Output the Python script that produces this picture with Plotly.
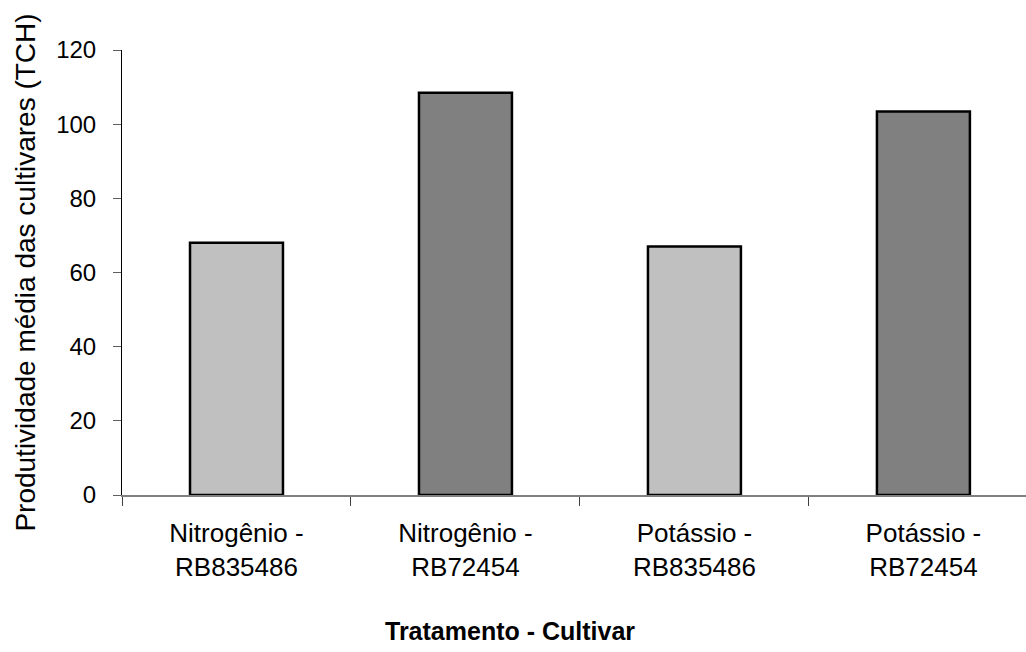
import plotly.graph_objects as go

# Mean yield per treatment/cultivar combination
categories = ["Nitrogênio -<br>RB835486", "Nitrogênio -<br>RB72454",
              "Potássio -<br>RB835486", "Potássio -<br>RB72454"]
values = [68.0, 108.5, 67.0, 103.4]
bar_colors = ["#C0C0C0", "#808080", "#C0C0C0", "#808080"]

y_ticks = [0, 20, 40, 60, 80, 100, 120]

FONT = "Liberation Sans, Arial, sans-serif"

fig = go.Figure(
    go.Bar(
        x=categories,
        y=values,
        width=0.406,
        marker=dict(color=bar_colors, line=dict(color="black", width=2.5)),
    )
)

fig.update_layout(
    width=1026,
    height=652,
    margin=dict(l=122, r=0, t=50, b=157),
    plot_bgcolor="white",
    paper_bgcolor="white",
    showlegend=False,
    font=dict(family=FONT, color="black", size=22),
    xaxis=dict(
        type="category",
        range=[-0.5, 3.448],
        showline=True,
        linecolor="#808080",
        linewidth=2,
        ticks="outside",
        tickson="boundaries",
        ticklen=9,
        tickcolor="#404040",
        tickfont=dict(size=26),
        ticklabelstandoff=14,
        showgrid=False,
        zeroline=False,
    ),
    yaxis=dict(
        range=[0, 120],
        tickvals=y_ticks,
        showline=True,
        linecolor="black",
        linewidth=1,
        ticks="outside",
        ticklen=8,
        tickcolor="#606060",
        tickfont=dict(size=24),
        ticklabelstandoff=12,
        showgrid=False,
        zeroline=False,
        title=dict(text="Produtividade média das cultivares (TCH)",
                   font=dict(size=28), standoff=12),
    ),
    annotations=[
        dict(
            text="<b>Tratamento - Cultivar</b>",
            xref="paper", yref="paper",
            x=0.4287, y=-0.305,
            xanchor="center", yanchor="middle",
            showarrow=False,
            font=dict(size=25, family=FONT),
        )
    ],
)

fig.write_html("out.html")
